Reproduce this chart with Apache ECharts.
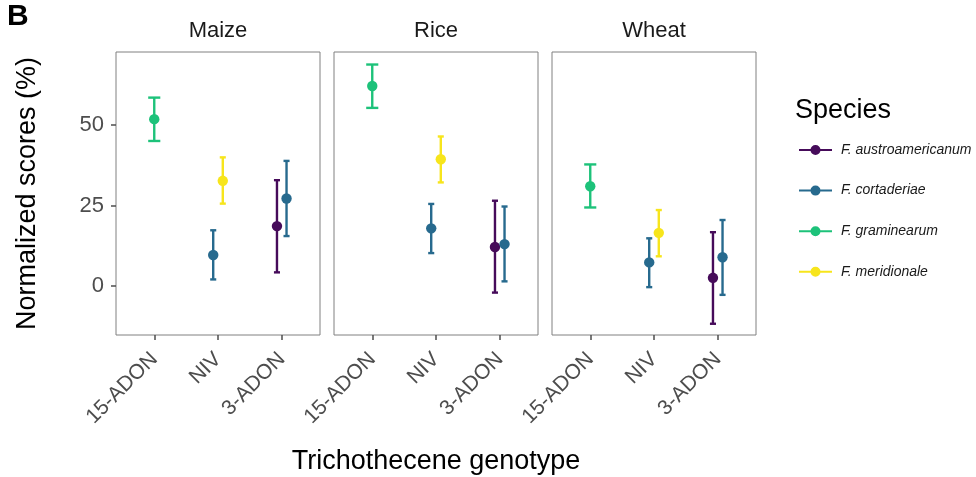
<!DOCTYPE html>
<html>
<head>
<meta charset="utf-8">
<script src="https://cdn.jsdelivr.net/npm/echarts@6/dist/echarts.min.js"></script>
<style>
  html, body { margin: 0; padding: 0; background: #fff; }
  #chart { width: 976px; height: 477px; }
</style>
</head>
<body>
<div id="chart"></div>
<script>
// Facets, x categories and legend entries
const crops = ['Maize', 'Rice', 'Wheat'];
const genotypes = ['15-ADON', 'NIV', '3-ADON'];
const speciesNames = ['F. austroamericanum', 'F. cortaderiae', 'F. graminearum', 'F. meridionale'];
const speciesColors = ['#460B5A', '#276A8E', '#1DC27A', '#F7E51C'];
const yTicks = [0, 25, 50];

// Rows: [crop, genotype, mean, lower, upper]
const austroamericanum = [
  ['Maize', '3-ADON', 18.6, 4.2, 32.9],
  ['Rice', '3-ADON', 12.1, -2.1, 26.5],
  ['Wheat', '3-ADON', 2.5, -11.8, 16.7]
];
const cortaderiae = [
  ['Maize', 'NIV', 9.6, 2.0, 17.3],
  ['Maize', '3-ADON', 27.2, 15.5, 38.9],
  ['Rice', 'NIV', 17.9, 10.2, 25.5],
  ['Rice', '3-ADON', 13.0, 1.4, 24.7],
  ['Wheat', 'NIV', 7.3, -0.4, 14.8],
  ['Wheat', '3-ADON', 8.9, -2.8, 20.5]
];
const graminearum = [
  ['Maize', '15-ADON', 51.9, 45.1, 58.6],
  ['Rice', '15-ADON', 62.2, 55.4, 68.9],
  ['Wheat', '15-ADON', 31.0, 24.4, 37.8]
];
const meridionale = [
  ['Maize', 'NIV', 32.7, 25.6, 40.0],
  ['Rice', 'NIV', 39.4, 32.2, 46.5],
  ['Wheat', 'NIV', 16.5, 9.2, 23.6]
];
const speciesData = [austroamericanum, cortaderiae, graminearum, meridionale];

// Dodge settings (in category units)
const DODGE = 0.15;
const CAP = 0.19;

const FONT = '"Liberation Sans", Arial, Helvetica, sans-serif';
const panelLeft = [116, 334, 552];
const panelW = 204, panelTop = 52, panelH = 283;

// Which species share a (crop, genotype) slot, in species order
function groupMembers(crop, geno) {
  const members = [];
  speciesData.forEach((rows, si) => {
    if (rows.some(r => r[0] === crop && r[1] === geno)) members.push(si);
  });
  return members;
}

const grids = [], xAxes = [], yAxes = [], series = [];
crops.forEach((crop, ci) => {
  grids.push({
    left: panelLeft[ci], top: panelTop, width: panelW, height: panelH,
    containLabel: false, outerBoundsMode: 'none',
    show: true, borderColor: '#808080', borderWidth: 1, backgroundColor: '#fff'
  });
  xAxes.push({
    type: 'value', gridIndex: ci, min: 0.4, max: 3.6, position: 'bottom',
    axisLine: { show: false, onZero: false },
    splitLine: { show: false },
    axisTick: { show: true, customValues: [1, 2, 3], length: 5, lineStyle: { color: '#4d4d4d', width: 1.5 } },
    axisLabel: {
      show: true, customValues: [1, 2, 3], rotate: 45, margin: 21,
      color: '#4d4d4d', fontSize: 21, fontFamily: FONT,
      formatter: v => genotypes[Math.round(v) - 1]
    },
    name: ci === 1 ? 'Trichothecene genotype' : '',
    nameLocation: 'middle', nameGap: 113,
    nameTextStyle: { color: '#000', fontSize: 27, fontFamily: FONT }
  });
  yAxes.push({
    type: 'value', gridIndex: ci, min: -15.3, max: 72.8, position: 'left',
    axisLine: { show: false, onZero: false },
    splitLine: { show: false },
    axisTick: { show: ci === 0, customValues: yTicks, length: 5, lineStyle: { color: '#4d4d4d', width: 1.5 } },
    axisLabel: {
      show: ci === 0, customValues: yTicks, margin: 12,
      color: '#4d4d4d', fontSize: 22, fontFamily: FONT
    },
    name: ci === 0 ? 'Normalized scores (%)' : '',
    nameLocation: 'middle', nameGap: 75, nameRotate: 90,
    nameTextStyle: { color: '#000', fontSize: 27, fontFamily: FONT }
  });

  speciesData.forEach((rows, si) => {
    const data = rows.filter(r => r[0] === crop).map(r => {
      const members = groupMembers(crop, r[1]);
      const k = members.indexOf(si);
      const n = members.length;
      const x = genotypes.indexOf(r[1]) + 1 + (k - (n - 1) / 2) * DODGE;
      return [x, r[2], r[3], r[4], CAP / n];
    });
    series.push({
      name: speciesNames[si],
      type: 'custom',
      xAxisIndex: ci, yAxisIndex: ci,
      color: speciesColors[si],
      itemStyle: { color: speciesColors[si] },
      data: data,
      encode: { x: 0, y: [1, 2, 3] },
      renderItem: function (params, api) {
        const x = api.value(0);
        const half = api.value(4) / 2;
        const mid = api.coord([x, api.value(1)]);
        const lo = api.coord([x, api.value(2)]);
        const hi = api.coord([x, api.value(3)]);
        const l = api.coord([x - half, 0])[0];
        const r = api.coord([x + half, 0])[0];
        const col = speciesColors[si];
        const ls = { stroke: col, lineWidth: 2.4 };
        return {
          type: 'group',
          children: [
            { type: 'line', shape: { x1: mid[0], y1: lo[1], x2: mid[0], y2: hi[1] }, style: ls },
            { type: 'line', shape: { x1: l, y1: lo[1], x2: r, y2: lo[1] }, style: ls },
            { type: 'line', shape: { x1: l, y1: hi[1], x2: r, y2: hi[1] }, style: ls },
            { type: 'circle', shape: { cx: mid[0], cy: mid[1], r: 5.2 }, style: { fill: col } }
          ]
        };
      }
    });
  });
});

// Legend key: a short line with a dot on it
const keyIcon = 'path://M0,5 L33,5 L33,7 L0,7 Z M16.5,1 A5,5 0 1 1 16.49,1 Z';

const chart = echarts.init(document.getElementById('chart'), null, { renderer: 'canvas' });
chart.setOption({
  animation: false,
  backgroundColor: '#fff',
  grid: grids,
  xAxis: xAxes,
  yAxis: yAxes,
  series: series,
  legend: {
    orient: 'vertical', left: 794, top: 138,
    itemWidth: 33, itemHeight: 10, itemGap: 26.6,
    data: speciesNames.map((n, i) => ({ name: n, icon: keyIcon, itemStyle: { color: speciesColors[i] } })),
    textStyle: { fontStyle: 'italic', fontSize: 14, color: '#1a1a1a', fontFamily: FONT, padding: [0, 0, 0, 4] },
    selectedMode: false
  },
  graphic: [
    { type: 'text', left: 7, top: 2, style: { text: 'B', font: 'bold 30px ' + FONT, fill: '#000' } },
    { type: 'text', x: 795, y: 111, style: { text: 'Species', font: '27px ' + FONT, fill: '#000', textVerticalAlign: 'middle' } }
  ].concat(crops.map((c, ci) => ({
    type: 'text', x: panelLeft[ci] + panelW / 2, y: 30.5,
    style: { text: c, font: '22px ' + FONT, fill: '#1a1a1a', textAlign: 'center', textVerticalAlign: 'middle' }
  })))
});
</script>
</body>
</html>
